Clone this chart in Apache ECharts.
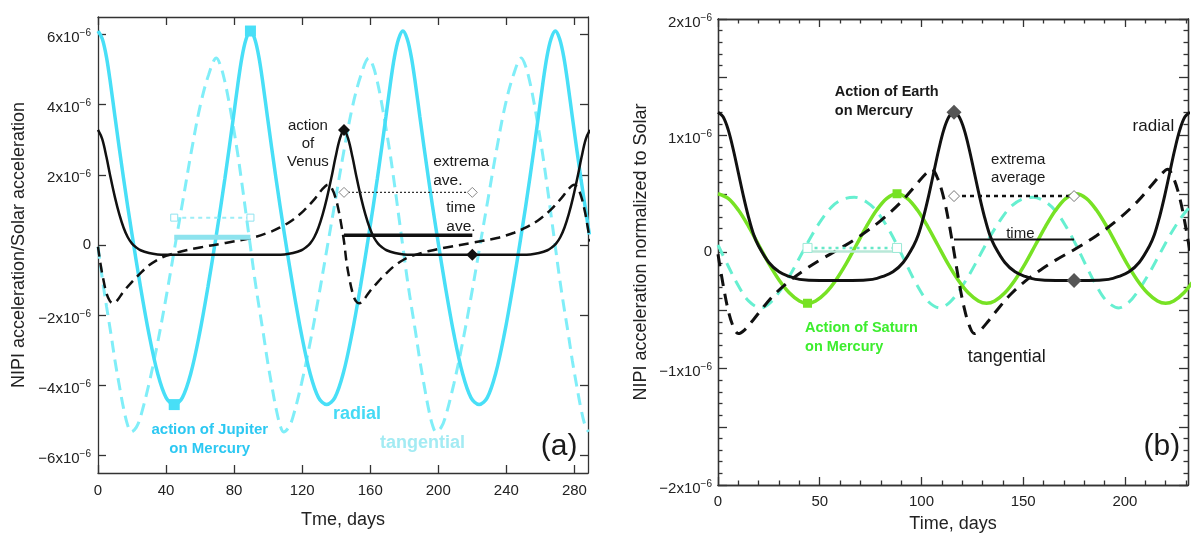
<!DOCTYPE html>
<html><head><meta charset="utf-8">
<script src="https://cdn.jsdelivr.net/npm/echarts@6/dist/echarts.min.js"></script>
<style>html,body{margin:0;padding:0;background:#fff}#c{width:1192px;height:538px}</style>
</head><body><div id="c"></div>
<script>
// All accelerations are in units of 1e-6 (normalized to Solar acceleration)
// ---------- Panel (a): Jupiter and Venus acting on Mercury ----------
const aXTicks = [0, 40, 80, 120, 160, 200, 240, 280];
const aYTicks = [-6, -4, -2, 0, 2, 4, 6];
const jupRadial = [[0,6.10],[2.5,5.88],[5,5.35],[7.5,4.55],[10,3.65],[15,1.90],[20,0.30],[25,-1.20],[30,-2.55],[35,-3.65],[40,-4.35],[44.8,-4.55],
[49.6,-4.35],[54.6,-3.65],[59.6,-2.55],[64.6,-1.20],[69.6,0.30],[74.6,1.90],[79.6,3.65],[82.1,4.55],[84.6,5.35],[87.1,5.88],[89.6,6.10],
[92.1,5.88],[94.6,5.35],[97.1,4.55],[99.6,3.65],[104.6,1.90],[109.6,0.30],[114.6,-1.20],[119.6,-2.55],[124.6,-3.65],[129.6,-4.35],[134.4,-4.55],
[139.2,-4.35],[144.2,-3.65],[149.2,-2.55],[154.2,-1.20],[159.2,0.30],[164.2,1.90],[169.2,3.65],[171.7,4.55],[174.2,5.35],[176.7,5.88],[179.2,6.10],
[181.7,5.88],[184.2,5.35],[186.7,4.55],[189.2,3.65],[194.2,1.90],[199.2,0.30],[204.2,-1.20],[209.2,-2.55],[214.2,-3.65],[219.2,-4.35],[224.0,-4.55],
[228.8,-4.35],[233.8,-3.65],[238.8,-2.55],[243.8,-1.20],[248.8,0.30],[253.8,1.90],[258.8,3.65],[261.3,4.55],[263.8,5.35],[266.3,5.88],[268.8,6.10],
[271.3,5.88],[273.8,5.35],[276.3,4.55],[278.8,3.65],[283.8,1.90],[288.8,0.30]];
const jupTangential = [[0,-0.05],[2.5,-0.95],[5,-1.75],[7.5,-2.5],[10,-3.3],[12.5,-4.0],[15,-4.65],[17.5,-5.15],[19.5,-5.33],[22.5,-5.2],[25,-4.9],[30,-3.95],[35,-2.8],[40,-1.5],[45,-0.1],[50,1.3],[55,2.7],[60,3.95],[65,4.85],[69.6,5.33],
[72.1,5.1],[74.6,4.65],[77.1,4.05],[79.6,3.35],[82.1,2.6],[84.6,1.75],[87.1,0.85],[89.6,-0.05],[92.1,-0.95],[94.6,-1.75],[97.1,-2.5],[99.6,-3.3],[102.1,-4.0],[104.6,-4.65],[107.1,-5.15],[109.1,-5.33],[112.1,-5.2],[114.6,-4.9],[119.6,-3.95],[124.6,-2.8],[129.6,-1.5],[134.6,-0.1],[139.6,1.3],[144.6,2.7],[149.6,3.95],[154.6,4.85],[159.2,5.33],
[161.7,5.1],[164.2,4.65],[166.7,4.05],[169.2,3.35],[171.7,2.6],[174.2,1.75],[176.7,0.85],[179.2,-0.05],[181.7,-0.95],[184.2,-1.75],[186.7,-2.5],[189.2,-3.3],[191.7,-4.0],[194.2,-4.65],[196.7,-5.15],[198.7,-5.33],[201.7,-5.2],[204.2,-4.9],[209.2,-3.95],[214.2,-2.8],[219.2,-1.5],[224.2,-0.1],[229.2,1.3],[234.2,2.7],[239.2,3.95],[244.2,4.85],[248.8,5.33],
[251.3,5.1],[253.8,4.65],[256.3,4.05],[258.8,3.35],[261.3,2.6],[263.8,1.75],[266.3,0.85],[268.8,-0.05],[271.3,-0.95],[273.8,-1.75],[276.3,-2.5],[278.8,-3.3],[281.3,-4.0],[283.8,-4.65],[286.3,-5.15],[288.3,-5.33]];
const venRadial = [[0,3.28],[2.5,3.02],[5,2.5],[7.5,1.9],[10,1.35],[12.5,0.88],[15,0.5],[17.5,0.22],[20,0.04],[22.5,-0.07],[25,-0.15],[30,-0.23],[35,-0.27],[40,-0.28],[55,-0.28],[72,-0.28],[90,-0.28],[104.6,-0.28],[109.6,-0.27],[114.6,-0.23],[119.6,-0.15],[122.1,-0.07],[124.6,0.04],[127.1,0.22],[129.6,0.5],[132.1,0.88],[134.6,1.35],[137.1,1.9],[139.6,2.5],[142.1,3.02],[144.6,3.28],
[147.1,3.02],[149.6,2.5],[152.1,1.9],[154.6,1.35],[157.1,0.88],[159.6,0.5],[162.1,0.22],[164.6,0.04],[167.1,-0.07],[169.6,-0.15],[174.6,-0.23],[179.6,-0.27],[184.6,-0.28],[200,-0.28],[217,-0.28],[234,-0.28],[249.2,-0.28],[254.2,-0.27],[259.2,-0.23],[264.2,-0.15],[266.7,-0.07],[269.2,0.04],[271.7,0.22],[274.2,0.5],[276.7,0.88],[279.2,1.35],[281.7,1.9],[284.2,2.5],[286.7,3.02],[289.2,3.28]];
const venTangential = [[0,-0.05],[1.5,-0.55],[3,-0.95],[5,-1.38],[7,-1.6],[9,-1.66],[11,-1.6],[15,-1.33],[20,-1.05],[25,-0.8],[30,-0.58],[35,-0.42],[40,-0.31],[50,-0.17],[60,-0.07],[75,0.06],[90,0.2],[100,0.35],[107,0.5],[114,0.7],[121,0.98],[128,1.35],[132,1.6],[135.3,1.72],[137.6,1.6],[139.6,1.35],[141.6,0.95],[143.1,0.55],[144.6,0.1],
[146.1,-0.5],[147.6,-0.92],[149.6,-1.36],[151.6,-1.6],[153.6,-1.66],[155.6,-1.6],[159.6,-1.33],[164.6,-1.05],[169.6,-0.8],[174.6,-0.58],[179.6,-0.42],[184.6,-0.31],[194.6,-0.17],[204.6,-0.07],[219.6,0.06],[234.6,0.2],[244.6,0.35],[251.6,0.5],[258.6,0.7],[265.6,0.98],[272.6,1.35],[276.6,1.6],[279.9,1.72],[282.2,1.6],[284.2,1.35],[286.2,0.95],[287.7,0.55],[289.2,0.1]];
const jupExtremes = [[44.8,-4.55],[89.6,6.10]];
const jupExtremaAve = [[44.8,0.78],[89.6,0.78]];
const jupTimeAve = [[44.8,0.22],[89.6,0.22]];
const venExtremes = [[144.6,3.28],[220,-0.28]];
const venExtremaAve = [[144.6,1.5],[220,1.5]];
const venTimeAve = [[144.6,0.28],[220,0.28]];

// ---------- Panel (b): Earth and Saturn acting on Mercury ----------
const bXMajor = [0, 50, 100, 150, 200];
const bXMinor = [10,20,30,40,60,70,80,90,110,120,130,140,160,170,180,190,210,220,230];
const bYMajor = [-2, -1.5, -1, -0.5, 0, 0.5, 1, 1.5, 2];
const bYLabels = [-2, -1, 0, 1, 2];
const bYMinor = [-1.9,-1.8,-1.7,-1.6,-1.4,-1.3,-1.2,-1.1,-0.9,-0.8,-0.7,-0.6,-0.4,-0.3,-0.2,-0.1,0.1,0.2,0.3,0.4,0.6,0.7,0.8,0.9,1.1,1.2,1.3,1.4,1.6,1.7,1.8,1.9];
const earRadial = [[0,1.2],[2.5,1.16],[5,1.05],[7.5,0.88],[10,0.68],[12.5,0.48],[15,0.3],[17.5,0.15],[20,0.05],[25,-0.09],[30,-0.17],[35,-0.21],[40,-0.235],[50,-0.245],[58,-0.245],[66,-0.245],[76,-0.235],[81,-0.21],[86,-0.17],[91,-0.09],[96,0.05],[98.5,0.15],[101,0.3],[103.5,0.48],[106,0.68],[108.5,0.88],[111,1.05],[113.5,1.16],[116,1.2],
[118.5,1.16],[121,1.05],[123.5,0.88],[126,0.68],[128.5,0.48],[131,0.3],[133.5,0.15],[136,0.05],[141,-0.09],[146,-0.17],[151,-0.21],[156,-0.235],[166,-0.245],[174,-0.245],[182,-0.245],[192,-0.235],[197,-0.21],[202,-0.17],[207,-0.09],[212,0.05],[214.5,0.15],[217,0.3],[219.5,0.48],[222,0.68],[224.5,0.88],[227,1.05],[229.5,1.16],[232,1.2]];
const earTangential = [[0,-0.02],[2.5,-0.28],[5,-0.5],[7.5,-0.64],[10,-0.7],[13,-0.67],[17,-0.59],[22,-0.48],[28,-0.36],[35,-0.25],[42,-0.16],[50,-0.07],[60,0.03],[70,0.14],[80,0.27],[90,0.43],[97,0.57],[102,0.67],[105,0.71],[108,0.63],[111,0.46],[113.5,0.25],[116,0.0],
[118.5,-0.26],[121,-0.48],[123.5,-0.63],[126,-0.7],[129,-0.67],[133,-0.59],[138,-0.48],[144,-0.36],[151,-0.25],[158,-0.16],[166,-0.07],[176,0.03],[186,0.14],[196,0.27],[206,0.43],[213,0.57],[218,0.67],[221,0.71],[224,0.63],[227,0.46],[229.5,0.25],[232,0.0]];
const satRadial = [[0,0.5],[5,0.46],[10,0.36],[15,0.22],[20,0.06],[25,-0.1],[30,-0.24],[35,-0.35],[40,-0.42],[44,-0.44],[48,-0.42],[53,-0.35],[58,-0.24],[63,-0.1],[68,0.06],[73,0.22],[78,0.36],[83,0.46],[88,0.5],
[93,0.46],[98,0.36],[103,0.22],[108,0.06],[113,-0.1],[118,-0.24],[123,-0.35],[128,-0.42],[132,-0.44],[136,-0.42],[141,-0.35],[146,-0.24],[151,-0.1],[156,0.06],[161,0.22],[166,0.36],[171,0.46],[176,0.5],
[181,0.46],[186,0.36],[191,0.22],[196,0.06],[201,-0.1],[206,-0.24],[211,-0.35],[216,-0.42],[220,-0.44],[224,-0.42],[229,-0.35],[234,-0.24]];
const satTangential = [[0,0.06],[5,-0.12],[10,-0.29],[15,-0.42],[21,-0.48],[26,-0.43],[31,-0.32],[36,-0.18],[41,-0.02],[46,0.14],[51,0.28],[56,0.39],[61,0.45],[67,0.47],[73,0.43],[78,0.35],[83,0.22],[88,0.06],
[93,-0.12],[98,-0.29],[103,-0.42],[109,-0.48],[114,-0.43],[119,-0.32],[124,-0.18],[129,-0.02],[134,0.14],[139,0.28],[144,0.39],[149,0.45],[155,0.47],[161,0.43],[166,0.35],[171,0.22],[176,0.06],
[181,-0.12],[186,-0.29],[191,-0.42],[197,-0.48],[202,-0.43],[207,-0.32],[212,-0.18],[217,-0.02],[222,0.14],[227,0.28],[232,0.39]];
const earExtremes = [[116,1.2],[175,-0.245]];
const earExtremaAve = [[116,0.48],[175,0.48]];
const earTimeAve = [[116,0.107],[175,0.107]];
const satExtremes = [[44,-0.44],[88,0.5]];
const satExtremaAve = [[44,0.035],[88,0.035]];
const satTimeAve = [[44,0.005],[88,0.005]];

// ---------- Annotations (data coordinates) ----------
const notes = [
  {g:0, at:[123.4,2.88], text:'action\nof\nVenus', size:15, weight:'normal', color:'#1a1a1a', align:'center', lh:18},
  {g:0, at:[197,2.1], text:'extrema\nave.', size:15.5, weight:'normal', color:'#1a1a1a', align:'left', lh:18.5},
  {g:0, at:[204.7,0.8], text:'time\nave.', size:15.5, weight:'normal', color:'#1a1a1a', align:'left', lh:19},
  {g:0, at:[65.7,-5.55], text:'action of Jupiter\non Mercury', size:15, weight:'bold', color:'#2cc8f2', align:'center', lh:19},
  {g:0, at:[152.2,-4.83], text:'radial', size:18, weight:'bold', color:'#45daf5', align:'center', lh:20},
  {g:0, at:[190.7,-5.65], text:'tangential', size:18, weight:'bold', color:'#a3ebf3', align:'center', lh:20},
  {g:0, at:[271,-5.76], text:'(a)', size:30, weight:'normal', color:'#1a1a1a', align:'center', lh:32},
  {g:1, at:[57.4,1.295], text:'Action of Earth\non Mercury', size:14.5, weight:'bold', color:'#1a1a1a', align:'left', lh:19},
  {g:1, at:[42.8,-0.734], text:'Action of Saturn\non Mercury', size:14.5, weight:'bold', color:'#3ded2e', align:'left', lh:19},
  {g:1, at:[134.2,0.712], text:'extrema\naverage', size:15, weight:'normal', color:'#1a1a1a', align:'left', lh:18.5},
  {g:1, at:[148.6,0.158], text:'time', size:15, weight:'normal', color:'#1a1a1a', align:'center', lh:18},
  {g:1, at:[214,1.078], text:'radial', size:17, weight:'normal', color:'#1a1a1a', align:'center', lh:20},
  {g:1, at:[141.9,-0.904], text:'tangential', size:18, weight:'normal', color:'#1a1a1a', align:'center', lh:20},
  {g:1, at:[218.2,-1.668], text:'(b)', size:30, weight:'normal', color:'#1a1a1a', align:'center', lh:32}
];

const FONT = '"Liberation Sans", Arial, Helvetica, sans-serif';
const AXC = '#333';
const RICH = {
  m: {fontSize:15, fontFamily:FONT, color:'#222', lineHeight:22, verticalAlign:'bottom'},
  s: {fontSize:10, fontFamily:FONT, color:'#222', lineHeight:10, padding:[5,0,0,0], verticalAlign:'top'}
};
function sciFmt(v){
  if (Math.abs(v) < 1e-9) return '0';
  return '{m|' + (v < 0 ? '\u2212' : '') + Math.abs(v) + 'x10}{s|\u22126}';
}
function mkAxis(o){
  return {
    type:'value', gridIndex:o.g, position:o.pos, min:o.min, max:o.max, silent:true,
    axisLine:{show:true, onZero:false, lineStyle:{color:AXC, width:1.3}},
    axisTick:{show:true, inside:true, length:o.len, customValues:o.ticks, lineStyle:{color:AXC, width:1.3}},
    axisLabel: o.labels ? {show:true, customValues:o.labels, margin:o.margin, fontSize:15, fontFamily:FONT, color:'#222', formatter:o.fmt, rich:RICH} : {show:false},
    splitLine:{show:false}, minorTick:{show:false},
    name:o.name || '', nameLocation:'middle', nameGap:o.nameGap || 0,
    nameTextStyle:{fontSize:18, fontFamily:FONT, color:'#222'}
  };
}
const xFmt = v => String(v);

const xAxes = [
  mkAxis({g:0,pos:'bottom',min:0,max:288,ticks:aXTicks,len:8,labels:aXTicks,margin:10,fmt:xFmt,name:'Tme, days',nameGap:38}),
  mkAxis({g:0,pos:'top',min:0,max:288,ticks:aXTicks,len:8}),
  mkAxis({g:1,pos:'bottom',min:0,max:231,ticks:bXMajor,len:8,labels:bXMajor,margin:9,fmt:xFmt,name:'Time, days',nameGap:30}),
  mkAxis({g:1,pos:'bottom',min:0,max:231,ticks:bXMinor,len:4.5}),
  mkAxis({g:1,pos:'top',min:0,max:231,ticks:bXMajor,len:8}),
  mkAxis({g:1,pos:'top',min:0,max:231,ticks:bXMinor,len:4.5})
];
const yAxes = [
  mkAxis({g:0,pos:'left',min:-6.5,max:6.5,ticks:aYTicks,len:8,labels:aYTicks,margin:7,fmt:sciFmt,name:'NIPI acceleration/Solar acceleration',nameGap:70}),
  mkAxis({g:0,pos:'right',min:-6.5,max:6.5,ticks:aYTicks,len:8}),
  mkAxis({g:1,pos:'left',min:-2,max:2,ticks:bYMajor,len:9,labels:bYLabels,margin:6,fmt:sciFmt,name:'NIPI acceleration normalized to Solar',nameGap:68}),
  mkAxis({g:1,pos:'left',min:-2,max:2,ticks:bYMinor,len:4.5}),
  mkAxis({g:1,pos:'right',min:-2,max:2,ticks:bYMajor,len:9}),
  mkAxis({g:1,pos:'right',min:-2,max:2,ticks:bYMinor,len:4.5})
];

function curve(g, data, color, width, type, z){
  return {type:'line', xAxisIndex:g?2:0, yAxisIndex:g?2:0, data, showSymbol:false, smooth:0.35,
    lineStyle:{color, width, type: type || 'solid'}, z: z || 2, silent:true, animation:false};
}
function seg(g, data, color, width, type, sym, symSize, symBorder, z){
  return {type:'line', xAxisIndex:g?2:0, yAxisIndex:g?2:0, data, showSymbol:!!sym, symbol:sym || 'none', symbolSize:symSize || 0,
    itemStyle:{color:'#fff', borderColor:symBorder || color, borderWidth:1}, lineStyle:{color, width, type: type || 'solid'},
    z: z || 4, silent:true, animation:false};
}
function marks(g, data, symbol, size, color, z){
  return {type:'scatter', xAxisIndex:g?2:0, yAxisIndex:g?2:0, data, symbol, symbolSize:size,
    itemStyle:{color, opacity:1}, z: z || 6, silent:true, animation:false};
}

const series = [
  // panel (a)
  curve(0, jupTangential, '#80eef8', 3, [12,7], 2),
  curve(0, jupRadial, '#48dff7', 3.5, 'solid', 2),
  curve(0, venRadial, '#111', 2.5, 'solid', 3),
  curve(0, venTangential, '#111', 2.5, [10,6], 3),
  seg(0, jupTimeAve, '#8de3ee', 5, 'solid', null, 0, null, 4),
  seg(0, jupExtremaAve, '#9cedf6', 2, [4,4], 'rect', 7, '#8fe3ef', 4),
  seg(0, venTimeAve, '#111', 3.5, 'solid', null, 0, null, 4),
  seg(0, venExtremaAve, '#333', 1.3, [2,2], 'diamond', 10, '#888', 5),
  marks(0, jupExtremes, 'rect', 11, '#48dff7', 6),
  marks(0, venExtremes, 'diamond', 12, '#111', 6),
  // panel (b)
  curve(1, satTangential, '#66efd0', 3, [12,8], 2),
  curve(1, satRadial, '#77e224', 3.5, 'solid', 2),
  curve(1, earTangential, '#111', 3, [12,8], 3),
  curve(1, earRadial, '#111', 3, 'solid', 3),
  seg(1, satTimeAve, '#b9e8d8', 2.5, 'solid', null, 0, null, 4),
  seg(1, satExtremaAve, '#66e8c8', 2.5, [3,4], 'rect', 9, '#9ae9d5', 4),
  seg(1, earTimeAve, '#111', 2, 'solid', null, 0, null, 4),
  seg(1, earExtremaAve, '#111', 2.5, [4,4], 'diamond', 11, '#777', 5),
  marks(1, satExtremes, 'rect', 9, '#77e224', 6),
  marks(1, earExtremes, 'diamond', 15, '#555', 6)
];

const chart = echarts.init(document.getElementById('c'), null, {renderer:'canvas'});
chart.setOption({
  animation:false,
  backgroundColor:'#fff',
  grid:[
    {left:98, top:17, width:490, height:456, containLabel:false},
    {left:718, top:19, width:470, height:471, containLabel:false}
  ],
  xAxis:xAxes, yAxis:yAxes, series
});
const gfx = notes.map(n => {
  const p = chart.convertToPixel({gridIndex:n.g}, n.at);
  return {type:'text', x:p[0], y:p[1], silent:true, z:100,
    style:{text:n.text, fill:n.color, fontSize:n.size, fontWeight:n.weight, fontFamily:FONT,
      align:n.align, textAlign:n.align, verticalAlign:'middle', textVerticalAlign:'middle', lineHeight:n.lh}};
});
chart.setOption({graphic:gfx});
</script></body></html>
